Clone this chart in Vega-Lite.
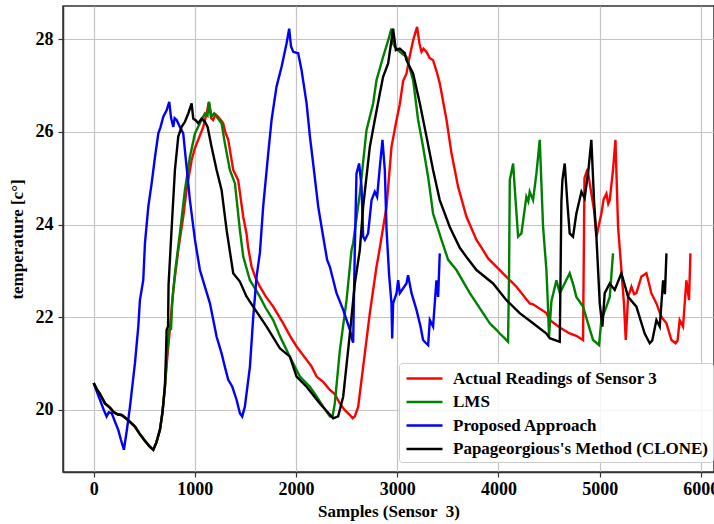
{
"$schema": "https://vega.github.io/schema/vega-lite/v6.json",
"width": 651, "height": 466,
"autosize": {"type": "none"},
"padding": {"left": 63, "top": 6, "right": 0, "bottom": 52},
"background": "white",
"config": {
  "view": {"stroke": "#333333", "strokeWidth": 1.5},
  "font": "Liberation Serif",
  "axis": {"labelFont": "Liberation Serif", "labelFontSize": 18, "labelFontWeight": "bold", "labelColor": "black",
           "titleFont": "Liberation Serif", "titleFontSize": 17, "titleFontWeight": "bold", "titleColor": "black",
           "domainColor": "#333333", "domainWidth": 1.5, "tickColor": "#333333", "tickSize": 5, "tickWidth": 1.2,
           "grid": true, "gridColor": "#c4c4c4", "gridWidth": 1.2}
},
"datasets": {
"actual": [
{"x":0,"y":20.58},{"x":30,"y":20.45},{"x":60,"y":20.35},{"x":112,"y":20.14},{"x":160,"y":20.05},{"x":200,"y":19.95},{"x":240,"y":19.9},{"x":276,"y":19.89},{"x":330,"y":19.8},{"x":408,"y":19.64},{"x":450,"y":19.5},{"x":500,"y":19.35},{"x":550,"y":19.22},{"x":589,"y":19.14},{"x":620,"y":19.3},{"x":655,"y":19.57},{"x":680,"y":19.95},{"x":704,"y":20.5},{"x":730,"y":21.2},{"x":760,"y":21.9},{"x":787,"y":22.59},{"x":836,"y":23.45},{"x":885,"y":24.17},{"x":918,"y":24.75},{"x":968,"y":25.39},{"x":1000,"y":25.65},{"x":1033,"y":25.83},{"x":1083,"y":26.11},{"x":1116,"y":26.4},{"x":1139,"y":26.65},{"x":1160,"y":26.3},{"x":1181,"y":26.26},{"x":1205,"y":26.38},{"x":1231,"y":26.33},{"x":1280,"y":26.19},{"x":1300,"y":26.0},{"x":1330,"y":25.83},{"x":1355,"y":25.5},{"x":1379,"y":25.18},{"x":1428,"y":24.96},{"x":1478,"y":24.17},{"x":1511,"y":23.8},{"x":1527,"y":23.5},{"x":1560,"y":23.1},{"x":1600,"y":22.85},{"x":1643,"y":22.66},{"x":1700,"y":22.45},{"x":1774,"y":22.23},{"x":1873,"y":21.87},{"x":1940,"y":21.6},{"x":2005,"y":21.37},{"x":2104,"y":21.08},{"x":2150,"y":20.95},{"x":2203,"y":20.72},{"x":2270,"y":20.6},{"x":2334,"y":20.43},{"x":2380,"y":20.35},{"x":2433,"y":20.14},{"x":2480,"y":20.0},{"x":2532,"y":19.89},{"x":2560,"y":19.82},{"x":2581,"y":19.86},{"x":2614,"y":20.07},{"x":2663,"y":20.93},{"x":2729,"y":22.09},{"x":2795,"y":23.09},{"x":2828,"y":23.5},{"x":2894,"y":24.39},{"x":2943,"y":25.68},{"x":2993,"y":26.26},{"x":3025,"y":26.6},{"x":3058,"y":27.1},{"x":3091,"y":27.26},{"x":3120,"y":27.6},{"x":3157,"y":27.98},{"x":3196,"y":28.27},{"x":3220,"y":27.9},{"x":3240,"y":27.73},{"x":3260,"y":27.8},{"x":3289,"y":27.73},{"x":3320,"y":27.6},{"x":3354,"y":27.55},{"x":3390,"y":27.3},{"x":3420,"y":27.05},{"x":3487,"y":26.26},{"x":3536,"y":25.54},{"x":3601,"y":24.82},{"x":3684,"y":24.17},{"x":3783,"y":23.67},{"x":3848,"y":23.45},{"x":3898,"y":23.27},{"x":4013,"y":23.02},{"x":4112,"y":22.8},{"x":4178,"y":22.66},{"x":4309,"y":22.3},{"x":4342,"y":22.28},{"x":4474,"y":22.09},{"x":4507,"y":21.94},{"x":4606,"y":21.78},{"x":4704,"y":21.65},{"x":4770,"y":21.6},{"x":4836,"y":21.51},{"x":4850,"y":25.0},{"x":4880,"y":25.2},{"x":4902,"y":24.89},{"x":4945,"y":24.31},{"x":4968,"y":23.74},{"x":5017,"y":24.24},{"x":5040,"y":24.55},{"x":5067,"y":24.67},{"x":5085,"y":24.45},{"x":5100,"y":24.53},{"x":5132,"y":25.18},{"x":5156,"y":25.83},{"x":5182,"y":23.95},{"x":5215,"y":23.02},{"x":5240,"y":22.3},{"x":5258,"y":21.51},{"x":5281,"y":22.44},{"x":5314,"y":22.66},{"x":5340,"y":22.5},{"x":5363,"y":22.52},{"x":5413,"y":22.88},{"x":5462,"y":22.95},{"x":5511,"y":22.52},{"x":5561,"y":22.3},{"x":5610,"y":22.01},{"x":5660,"y":21.87},{"x":5709,"y":21.51},{"x":5751,"y":21.44},{"x":5770,"y":21.5},{"x":5791,"y":21.94},{"x":5824,"y":21.8},{"x":5857,"y":22.8},{"x":5883,"y":22.37},{"x":5897,"y":23.38}
],
"lms": [
{"x":0,"y":20.58},{"x":30,"y":20.45},{"x":60,"y":20.35},{"x":112,"y":20.14},{"x":160,"y":20.05},{"x":200,"y":19.95},{"x":240,"y":19.9},{"x":276,"y":19.89},{"x":330,"y":19.8},{"x":408,"y":19.64},{"x":450,"y":19.5},{"x":500,"y":19.35},{"x":550,"y":19.22},{"x":589,"y":19.14},{"x":620,"y":19.3},{"x":655,"y":19.57},{"x":680,"y":19.95},{"x":704,"y":20.5},{"x":725,"y":21.2},{"x":745,"y":21.73},{"x":765,"y":21.75},{"x":775,"y":22.3},{"x":803,"y":22.95},{"x":852,"y":23.81},{"x":902,"y":24.75},{"x":951,"y":25.46},{"x":1001,"y":25.97},{"x":1050,"y":26.19},{"x":1099,"y":26.4},{"x":1125,"y":26.35},{"x":1139,"y":26.65},{"x":1165,"y":26.33},{"x":1190,"y":26.4},{"x":1215,"y":26.33},{"x":1264,"y":26.19},{"x":1297,"y":25.75},{"x":1346,"y":25.18},{"x":1396,"y":24.89},{"x":1445,"y":23.88},{"x":1478,"y":23.31},{"x":1544,"y":22.8},{"x":1600,"y":22.6},{"x":1643,"y":22.44},{"x":1700,"y":22.2},{"x":1774,"y":21.94},{"x":1850,"y":21.55},{"x":1939,"y":21.15},{"x":2038,"y":20.72},{"x":2137,"y":20.5},{"x":2200,"y":20.3},{"x":2268,"y":20.07},{"x":2334,"y":19.86},{"x":2360,"y":19.85},{"x":2383,"y":20.14},{"x":2433,"y":21.29},{"x":2499,"y":22.37},{"x":2548,"y":23.45},{"x":2564,"y":23.6},{"x":2630,"y":24.67},{"x":2696,"y":26.04},{"x":2762,"y":26.62},{"x":2795,"y":27.12},{"x":2860,"y":27.62},{"x":2910,"y":27.98},{"x":2943,"y":28.23},{"x":2960,"y":27.9},{"x":2976,"y":27.84},{"x":3025,"y":27.73},{"x":3091,"y":27.62},{"x":3157,"y":27.12},{"x":3206,"y":26.26},{"x":3255,"y":25.68},{"x":3305,"y":25.03},{"x":3354,"y":24.24},{"x":3437,"y":23.67},{"x":3503,"y":23.24},{"x":3585,"y":23.02},{"x":3717,"y":22.52},{"x":3848,"y":22.09},{"x":3914,"y":21.87},{"x":3980,"y":21.73},{"x":4013,"y":21.65},{"x":4060,"y":21.55},{"x":4095,"y":21.47},{"x":4105,"y":23.0},{"x":4112,"y":24.96},{"x":4145,"y":25.32},{"x":4170,"y":24.5},{"x":4194,"y":23.74},{"x":4227,"y":23.81},{"x":4276,"y":24.6},{"x":4295,"y":24.5},{"x":4309,"y":24.71},{"x":4342,"y":24.53},{"x":4375,"y":25.1},{"x":4408,"y":25.83},{"x":4441,"y":23.95},{"x":4474,"y":23.02},{"x":4490,"y":22.2},{"x":4500,"y":21.58},{"x":4523,"y":22.34},{"x":4573,"y":22.8},{"x":4606,"y":22.52},{"x":4638,"y":22.66},{"x":4704,"y":22.95},{"x":4740,"y":22.7},{"x":4770,"y":22.44},{"x":4836,"y":22.23},{"x":4885,"y":21.87},{"x":4935,"y":21.51},{"x":4994,"y":21.4},{"x":5017,"y":21.94},{"x":5067,"y":22.23},{"x":5100,"y":22.44},{"x":5132,"y":23.38}
],
"proposed": [
{"x":0,"y":20.58},{"x":30,"y":20.4},{"x":62,"y":20.22},{"x":100,"y":20.0},{"x":128,"y":19.86},{"x":150,"y":19.95},{"x":178,"y":19.93},{"x":210,"y":19.75},{"x":243,"y":19.57},{"x":270,"y":19.35},{"x":299,"y":19.14},{"x":330,"y":19.6},{"x":359,"y":20.07},{"x":408,"y":21.01},{"x":441,"y":21.8},{"x":457,"y":22.37},{"x":490,"y":22.8},{"x":507,"y":23.6},{"x":540,"y":24.39},{"x":573,"y":24.89},{"x":606,"y":25.46},{"x":639,"y":25.97},{"x":660,"y":26.1},{"x":688,"y":26.33},{"x":721,"y":26.47},{"x":747,"y":26.65},{"x":765,"y":26.3},{"x":787,"y":26.11},{"x":800,"y":26.3},{"x":820,"y":26.26},{"x":852,"y":26.11},{"x":885,"y":25.97},{"x":918,"y":25.25},{"x":951,"y":24.53},{"x":1001,"y":23.67},{"x":1050,"y":23.02},{"x":1099,"y":22.66},{"x":1149,"y":22.3},{"x":1215,"y":21.58},{"x":1264,"y":21.22},{"x":1300,"y":20.9},{"x":1330,"y":20.65},{"x":1370,"y":20.5},{"x":1412,"y":20.22},{"x":1445,"y":19.93},{"x":1468,"y":19.86},{"x":1494,"y":20.07},{"x":1544,"y":20.93},{"x":1577,"y":22.01},{"x":1610,"y":22.88},{"x":1643,"y":23.4},{"x":1675,"y":24.39},{"x":1725,"y":25.54},{"x":1758,"y":26.26},{"x":1807,"y":26.98},{"x":1857,"y":27.41},{"x":1906,"y":27.91},{"x":1932,"y":28.23},{"x":1950,"y":27.85},{"x":1972,"y":27.73},{"x":2021,"y":27.7},{"x":2054,"y":27.34},{"x":2104,"y":26.62},{"x":2137,"y":25.9},{"x":2169,"y":25.32},{"x":2219,"y":24.39},{"x":2268,"y":23.74},{"x":2307,"y":23.24},{"x":2334,"y":23.09},{"x":2400,"y":22.52},{"x":2466,"y":22.16},{"x":2532,"y":21.73},{"x":2550,"y":21.55},{"x":2564,"y":21.45},{"x":2581,"y":23.52},{"x":2597,"y":25.1},{"x":2623,"y":25.32},{"x":2647,"y":24.82},{"x":2663,"y":23.74},{"x":2680,"y":23.67},{"x":2712,"y":23.81},{"x":2746,"y":24.53},{"x":2778,"y":24.71},{"x":2801,"y":24.6},{"x":2828,"y":25.25},{"x":2854,"y":25.83},{"x":2877,"y":25.18},{"x":2894,"y":23.9},{"x":2920,"y":22.9},{"x":2943,"y":22.3},{"x":2950,"y":21.54},{"x":2959,"y":22.3},{"x":2993,"y":22.52},{"x":3009,"y":22.8},{"x":3025,"y":22.52},{"x":3091,"y":22.73},{"x":3107,"y":22.91},{"x":3141,"y":22.52},{"x":3190,"y":22.16},{"x":3230,"y":21.8},{"x":3255,"y":21.51},{"x":3280,"y":21.45},{"x":3305,"y":21.4},{"x":3322,"y":21.94},{"x":3354,"y":21.8},{"x":3387,"y":22.8},{"x":3404,"y":22.44},{"x":3420,"y":23.38}
],
"clone": [
{"x":0,"y":20.58},{"x":30,"y":20.45},{"x":60,"y":20.35},{"x":112,"y":20.14},{"x":160,"y":20.05},{"x":200,"y":19.95},{"x":240,"y":19.9},{"x":276,"y":19.89},{"x":330,"y":19.8},{"x":408,"y":19.64},{"x":450,"y":19.5},{"x":500,"y":19.35},{"x":550,"y":19.22},{"x":589,"y":19.14},{"x":620,"y":19.3},{"x":655,"y":19.57},{"x":680,"y":19.95},{"x":704,"y":20.5},{"x":716,"y":21.3},{"x":721,"y":21.73},{"x":735,"y":21.8},{"x":740,"y":22.7},{"x":760,"y":23.5},{"x":777,"y":24.17},{"x":803,"y":25.18},{"x":836,"y":25.9},{"x":869,"y":26.11},{"x":902,"y":26.22},{"x":935,"y":26.4},{"x":968,"y":26.62},{"x":984,"y":26.29},{"x":1010,"y":26.25},{"x":1033,"y":26.19},{"x":1067,"y":26.29},{"x":1099,"y":26.22},{"x":1126,"y":26.11},{"x":1165,"y":25.68},{"x":1215,"y":25.18},{"x":1264,"y":24.75},{"x":1314,"y":23.88},{"x":1379,"y":22.95},{"x":1445,"y":22.77},{"x":1510,"y":22.45},{"x":1576,"y":22.23},{"x":1709,"y":21.8},{"x":1840,"y":21.33},{"x":1939,"y":21.15},{"x":2005,"y":20.72},{"x":2104,"y":20.5},{"x":2235,"y":20.14},{"x":2367,"y":19.82},{"x":2416,"y":19.86},{"x":2466,"y":20.29},{"x":2532,"y":21.65},{"x":2581,"y":22.73},{"x":2630,"y":23.45},{"x":2663,"y":24.39},{"x":2729,"y":25.68},{"x":2778,"y":26.26},{"x":2828,"y":26.83},{"x":2860,"y":27.19},{"x":2910,"y":27.48},{"x":2943,"y":27.98},{"x":2959,"y":28.23},{"x":2986,"y":27.77},{"x":3025,"y":27.8},{"x":3075,"y":27.7},{"x":3091,"y":27.55},{"x":3157,"y":27.26},{"x":3223,"y":26.62},{"x":3289,"y":25.9},{"x":3354,"y":25.18},{"x":3420,"y":24.53},{"x":3519,"y":23.95},{"x":3618,"y":23.5},{"x":3684,"y":23.3},{"x":3783,"y":23.02},{"x":3947,"y":22.73},{"x":4079,"y":22.37},{"x":4210,"y":22.09},{"x":4342,"y":21.87},{"x":4474,"y":21.65},{"x":4507,"y":21.55},{"x":4606,"y":21.47},{"x":4622,"y":24.5},{"x":4632,"y":24.96},{"x":4655,"y":25.32},{"x":4680,"y":24.5},{"x":4704,"y":23.81},{"x":4737,"y":23.74},{"x":4770,"y":24.24},{"x":4820,"y":24.71},{"x":4852,"y":24.57},{"x":4890,"y":25.2},{"x":4918,"y":25.83},{"x":4945,"y":24.5},{"x":4968,"y":23.74},{"x":5001,"y":22.3},{"x":5027,"y":21.8},{"x":5050,"y":22.52},{"x":5100,"y":22.73},{"x":5149,"y":22.59},{"x":5215,"y":22.95},{"x":5281,"y":22.44},{"x":5363,"y":22.23},{"x":5445,"y":21.65},{"x":5495,"y":21.44},{"x":5520,"y":21.5},{"x":5561,"y":21.94},{"x":5594,"y":21.8},{"x":5627,"y":22.8},{"x":5645,"y":22.5},{"x":5660,"y":23.38}
]
},
"encoding": {
  "x": {"field": "x", "type": "quantitative",
        "scale": {"domain": [-303, 6130], "nice": false, "zero": false},
        "axis": {"values": [0,1000,2000,3000,4000,5000,6000], "format": "d", "title": "Samples (Sensor \u00a03)", "labelPadding": 3, "titlePadding": 5}},
  "y": {"field": "y", "type": "quantitative",
        "scale": {"domain": [18.66, 28.72], "nice": false, "zero": false},
        "axis": {"values": [20,22,24,26,28], "title": "temperature [c°]", "labelPadding": 5, "titlePadding": 9}}
},
"layer": [
  {"data": {"name": "actual"}, "mark": {"type": "line", "strokeWidth": 2.4},
   "encoding": {"color": {"datum": "Actual Readings of Sensor 3", "type": "nominal",
      "scale": {"domain": ["Actual Readings of Sensor 3", "LMS", "Proposed Approach", "Papageorgious's Method (CLONE)"], "range": ["#ff0000", "#008000", "#0000ff", "#000000"]},
      "legend": {"title": null, "orient": "none", "legendX": 336, "legendY": 357, "symbolType": "M-2,0L2,0", "symbolSize": 324, "symbolStrokeWidth": 2.5, "symbolOffset": 10,
                 "labelFont": "Liberation Serif", "labelFontSize": 17, "labelFontWeight": "bold", "labelColor": "black", "labelOffset": 18, "labelLimit": 400,
                 "rowPadding": 4.5, "padding": 5, "strokeColor": "#cccccc", "fillColor": "rgba(255,255,255,0.85)", "cornerRadius": 3}}}},
  {"data": {"name": "lms"}, "mark": {"type": "line", "strokeWidth": 2.4},
   "encoding": {"color": {"datum": "LMS", "type": "nominal"}}},
  {"data": {"name": "proposed"}, "mark": {"type": "line", "strokeWidth": 2.4},
   "encoding": {"color": {"datum": "Proposed Approach", "type": "nominal"}}},
  {"data": {"name": "clone"}, "mark": {"type": "line", "strokeWidth": 2.4},
   "encoding": {"color": {"datum": "Papageorgious's Method (CLONE)", "type": "nominal"}}}
]
}
